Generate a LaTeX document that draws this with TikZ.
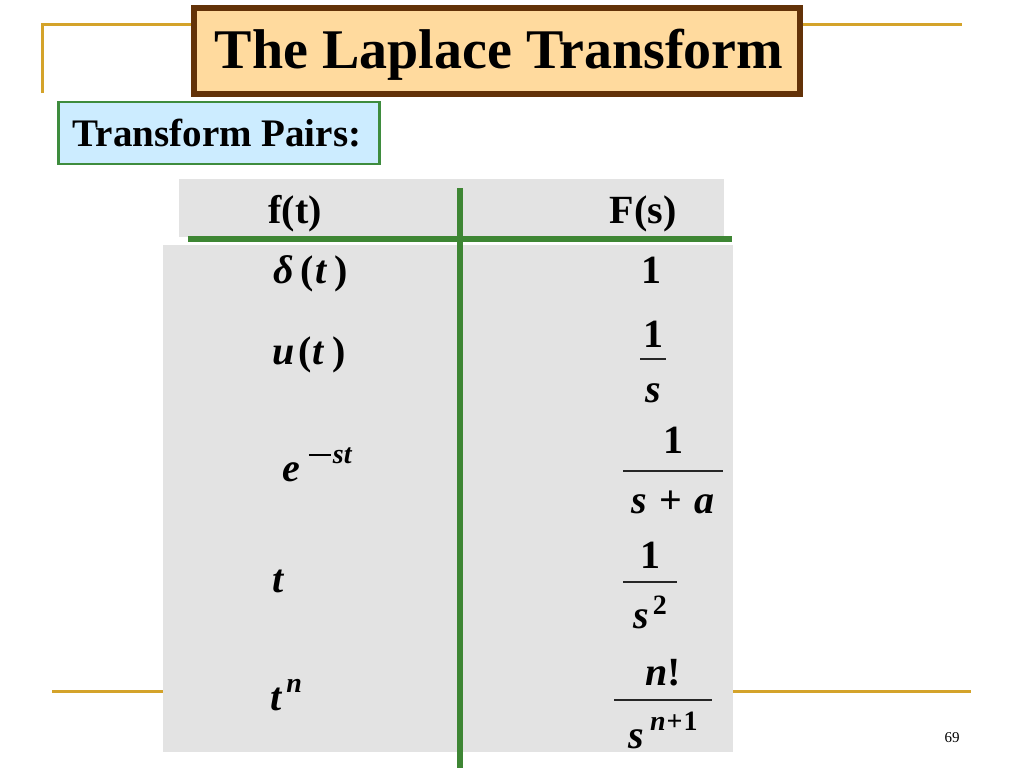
\documentclass[tikz,border=0pt]{standalone}
\usepackage{fontspec}
\setmainfont{Liberation Serif}
\usetikzlibrary{positioning}
\tikzstyle{slide} = [x = 1pt, y = -1pt]
\definecolor{goldLine}{RGB}{212,163,42}
\definecolor{titleFill}{RGB}{255,218,158}
\definecolor{titleBorder}{RGB}{99,50,8}
\definecolor{pairsFill}{RGB}{204,236,255}
\definecolor{pairsBorder}{RGB}{62,140,62}
\definecolor{tableGreen}{RGB}{62,134,52}
\definecolor{cellGray}{RGB}{227,227,227}
\tikzstyle{ruleLine} = [color=goldLine, line width=3pt]
\tikzstyle{titleBoxStyle} = [fill=titleFill, draw=titleBorder, line width=6pt, inner sep=0pt]
\tikzstyle{pairsBoxStyle} = [fill=pairsFill, draw=pairsBorder, line width=2.5pt, inner sep=0pt]
\tikzstyle{titleText} = [inner sep=0pt, font=\fontsize{56}{56}\selectfont\bfseries]
\tikzstyle{pairsText} = [inner sep=0pt, font=\fontsize{39}{39}\selectfont\bfseries]
\tikzstyle{headText} = [inner sep=0pt, font=\fontsize{40}{40}\selectfont\bfseries]
\tikzstyle{cellStyle} = [fill=cellGray]
\tikzstyle{tableLine} = [color=tableGreen, line width=6pt]
\tikzstyle{mathText} = [inner sep=0pt, font=\fontsize{40}{40}\selectfont\bfseries]
\tikzstyle{fracBar} = [color=black!85, line width=1.6pt]
\newcommand{\mv}[1]{\textit{#1}}
\newcommand{\raiseIdx}[2]{\raisebox{#1pt}{\fontsize{28}{28}\selectfont #2}}
\newcommand{\longMinus}{\rule[7pt]{22pt}{2.4pt}}
\newcommand{\fracEntry}[8]{
  \node [mathText, anchor=base] (#1Num) at (#2, #3) {#7};
  \draw [fracBar] (#2 - #6, #4) -- (#2 + #6, #4);
  \node [mathText, anchor=base] (#1Den) at (#2, #5) {#8};
}
\begin{document}
\begin{tikzpicture}[slide]
  \useasboundingbox (0,0) rectangle (1024,768);
  % slide rules
  \draw [ruleLine] (42,93) -- (42,25) -- (962,25);
  \draw [ruleLine] (52,691) -- (971,691);
  % title
  \node [titleBoxStyle, minimum width=606pt, minimum height=86pt] (titleBox) at (497,51) {};
  \node [titleText, anchor=base] (title) at (499,68) {The Laplace Transform};
  \node [pairsBoxStyle, minimum width=321pt, minimum height=62pt] (pairsBox) at (219,133) {};
  \node [pairsText, anchor=base] (pairs) at (217,146) {Transform Pairs:};
  % table
  \fill [cellStyle] (179,179) rectangle (724,237);
  \fill [cellStyle] (163,245) rectangle (733,752);
  \node [headText, anchor=base] (headF) at (295,223) {f(t)};
  \node [headText, anchor=base] (headS) at (643,223) {F(s)};
  \draw [tableLine] (188,238.5) -- (732,238.5);
  \draw [tableLine, line width=5.5pt] (460,188) -- (460,768);
  % left column
  \node [mathText, anchor=base west] (delta) at (273,283) {\mv{δ}\kern7pt(\kern1pt\mv{t}\kern7pt)};
  \node [mathText, anchor=base west] (step) at (272,364) {\mv{u}\kern4pt(\kern1pt\mv{t}\kern8pt)};
  \node [mathText, anchor=base west] (expo) at (282,481) {\mv{e}\kern9pt\raiseIdx{18}{\longMinus\kern2pt\mv{st}}};
  \node [mathText, anchor=base west] (ramp) at (272,592) {\mv{t}};
  \node [mathText, anchor=base west] (power) at (270,710) {\mv{t}\kern4pt\raiseIdx{18}{\mv{n}}};
  % right column
  \node [mathText, anchor=base] (one) at (651,283) {1};
  \fracEntry{stepS}{653}{347}{359}{402}{13}{1}{\mv{s}}
  \fracEntry{expoS}{673}{453}{471}{513}{50}{1}{\mv{s}\kern13pt+\kern12pt\mv{a}}
  \fracEntry{rampS}{650}{568}{582}{628}{27}{1}{\mv{s}\kern4pt\raiseIdx{14}{2}}
  \fracEntry{powerS}{663}{685}{700}{748}{49}{\mv{n}!}{\mv{s}\kern6pt\raiseIdx{18}{\mv{n}\kern1pt+\kern1pt1}}
  \node [anchor=base, inner sep=0pt, font=\fontsize{15}{15}\selectfont] (page) at (952,742) {69};
\end{tikzpicture}
\end{document}
